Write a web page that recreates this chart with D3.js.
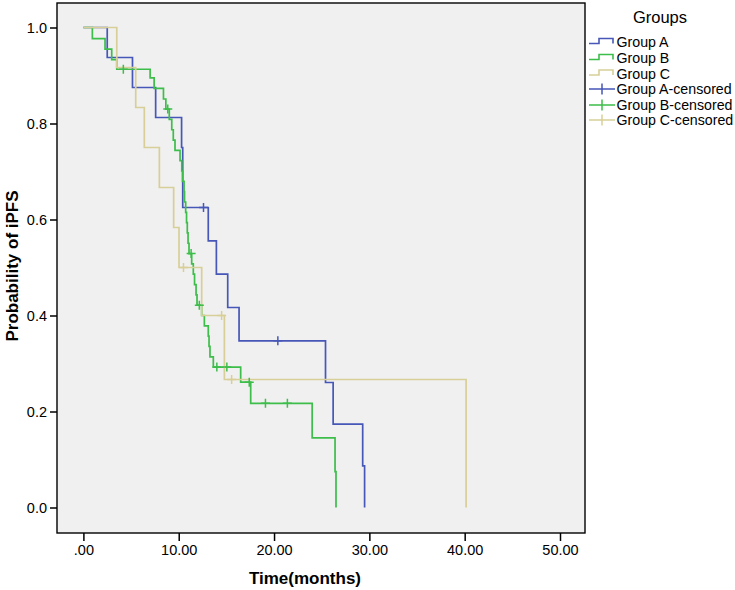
<!DOCTYPE html>
<html>
<head>
<meta charset="utf-8">
<script src="https://cdn.jsdelivr.net/npm/d3@7"></script>
<style>
  html, body { margin: 0; padding: 0; background: #ffffff; }
  svg { display: block; }
  text { font-family: "Liberation Sans", Arial, sans-serif; fill: #000; }
</style>
</head>
<body>
<svg id="chart" width="735" height="590"></svg>
<script>
// ---------------- DATA ----------------
const groups = ["Group A", "Group B", "Group C"];

// Group A (Kaplan-Meier step points)
const aTimes = [0, 2.5, 5.15, 7.58, 10.3, 10.42, 13.1, 13.95, 15.14, 16.33, 25.4, 26.2, 29.3, 29.5];
const aSurv  = [1.0, 0.9375, 0.875, 0.8125, 0.75, 0.625, 0.5556, 0.4861, 0.4167, 0.3472, 0.2604, 0.1736, 0.0868, 0];
const aCensored = [12.6, 20.4];

// Group B
const bTimes = [0, 0.94, 2.27, 2.97, 3.5, 7.0, 7.42, 8.4, 8.65, 9.01, 9.27, 9.43, 9.61,
                10.14, 10.32, 10.4, 10.56, 10.61, 10.73, 10.82, 10.9, 10.98, 11.08,
                11.36, 11.53, 11.66, 11.82, 11.92, 12.41, 12.69, 13.1, 13.18, 13.28, 13.63,
                16.5, 17.55, 24.0, 26.4, 26.5];
const bSurv  = [1, 0.977, 0.955, 0.933, 0.913, 0.895, 0.873, 0.851, 0.83, 0.8085, 0.787, 0.7655, 0.744,
                0.7225, 0.701, 0.6795, 0.658, 0.6365, 0.615, 0.5935, 0.572, 0.5505, 0.529,
                0.5075, 0.486, 0.4645, 0.443, 0.4215, 0.40, 0.3785, 0.357, 0.3355, 0.314, 0.2925,
                0.261, 0.217, 0.145, 0.0746, 0];
const bCensored = [4.19, 8.85, 11.3, 12.16, 14.0, 15.05, 17.4, 19.1, 21.4];

// Group C
const cTimes = [0, 3.5, 5.49, 6.39, 7.97, 9.47, 10.03, 12.41, 14.79, 40.15];
const cSurv  = [1, 0.9167, 0.8333, 0.75, 0.6667, 0.5833, 0.5, 0.4, 0.2667, 0];
const cCensored = [10.5, 14.5, 15.55];

const xTicks = [0, 10, 20, 30, 40, 50];
const yTicks = [0, 0.2, 0.4, 0.6, 0.8, 1.0];
const legendTitle = "Groups";
const legendLabels = ["Group A", "Group B", "Group C", "Group A-censored", "Group B-censored", "Group C-censored"];
const xTitle = "Time(months)";
const yTitle = "Probability of iPFS";

// ---------------- STYLE ----------------
const colors = { "Group A": "#4657b8", "Group B": "#3dbd4a", "Group C": "#d8cf98" };
const frame = { left: 57, right: 585, top: 3, bottom: 533 };

const svg = d3.select("#chart");

const x = d3.scaleLinear().domain([0, 50]).range([83.4, 560]);
const y = d3.scaleLinear().domain([0, 1]).range([507.5, 27.5]);

// plot background
svg.append("rect")
  .attr("x", frame.left).attr("y", frame.top)
  .attr("width", frame.right - frame.left).attr("height", frame.bottom - frame.top)
  .attr("fill", "#f0f0f0");

// series
const series = [
  { name: "Group A", times: aTimes, surv: aSurv, cens: aCensored },
  { name: "Group B", times: bTimes, surv: bSurv, cens: bCensored },
  { name: "Group C", times: cTimes, surv: cSurv, cens: cCensored }
];

function survAt(times, surv, t) {
  let s = 1;
  for (let i = 0; i < times.length; i++) if (times[i] <= t) s = surv[i];
  return s;
}

const line = d3.line()
  .x(d => x(d[0]))
  .y(d => y(d[1]))
  .curve(d3.curveStepAfter);

const plot = svg.append("g");
series.forEach(s => {
  const pts = s.times.map((t, i) => [t, s.surv[i]]);
  plot.append("path")
    .attr("d", line(pts))
    .attr("fill", "none")
    .attr("stroke", colors[s.name])
    .attr("stroke-width", 1.7);
});
series.forEach(s => {
  plot.selectAll(null)
    .data(s.cens)
    .enter().append("path")
    .attr("d", t => {
      const cx = x(t), cy = y(survAt(s.times, s.surv, t));
      return `M${cx - 4.5},${cy}H${cx + 4.5}M${cx},${cy - 4.5}V${cy + 4.5}`;
    })
    .attr("fill", "none")
    .attr("stroke", colors[s.name])
    .attr("stroke-width", 1.5);
});

// frame
svg.append("rect")
  .attr("x", frame.left).attr("y", frame.top)
  .attr("width", frame.right - frame.left).attr("height", frame.bottom - frame.top)
  .attr("fill", "none").attr("stroke", "#000").attr("stroke-width", 1.4);

// axes
const xAxis = d3.axisBottom(x)
  .tickValues(xTicks)
  .tickSize(8).tickSizeOuter(0).tickPadding(4)
  .tickFormat(d => d === 0 ? ".00" : d3.format(".2f")(d));
const gx = svg.append("g").attr("transform", `translate(0,${frame.bottom})`).call(xAxis);
gx.select(".domain").remove();
gx.selectAll(".tick line").attr("stroke", "#000").attr("stroke-width", 1.5);
gx.selectAll(".tick text").attr("font-size", 14.5).attr("font-family", "Liberation Sans, Arial, sans-serif");

const yAxis = d3.axisLeft(y)
  .tickValues(yTicks)
  .tickSize(7).tickSizeOuter(0).tickPadding(3)
  .tickFormat(d3.format(".1f"));
const gy = svg.append("g").attr("transform", `translate(${frame.left},0)`).call(yAxis);
gy.select(".domain").remove();
gy.selectAll(".tick line").attr("stroke", "#000").attr("stroke-width", 1.5);
gy.selectAll(".tick text").attr("font-size", 14.5).attr("font-family", "Liberation Sans, Arial, sans-serif");

// axis titles
svg.append("text")
  .attr("x", 305).attr("y", 584)
  .attr("text-anchor", "middle")
  .attr("font-size", 17).attr("font-weight", "bold")
  .text(xTitle);
svg.append("text")
  .attr("transform", "translate(18,266) rotate(-90)")
  .attr("text-anchor", "middle")
  .attr("font-size", 17).attr("font-weight", "bold")
  .text(yTitle);

// legend
const lg = svg.append("g");
lg.append("text")
  .attr("x", 660).attr("y", 23)
  .attr("text-anchor", "middle")
  .attr("font-size", 16.5)
  .text(legendTitle);

const legendY = [42, 58, 73.5, 89, 105, 120];
legendLabels.forEach((lab, i) => {
  const yy = legendY[i];
  const grp = groups[i % 3];
  const col = colors[grp];
  if (i < 3) {
    lg.append("path")
      .attr("d", `M589,${yy + 1.5}H599V${yy - 3.5}H613V${yy + 1.5}`)
      .attr("fill", "none").attr("stroke", col).attr("stroke-width", 1.6);
  } else {
    lg.append("path")
      .attr("d", `M589,${yy}H615M602,${yy - 5.5}V${yy + 5.5}`)
      .attr("fill", "none").attr("stroke", col).attr("stroke-width", 1.5);
  }
  lg.append("text")
    .attr("x", 616.5).attr("y", yy + 5)
    .attr("font-size", 14.2)
    .text(lab);
});
</script>
</body>
</html>
